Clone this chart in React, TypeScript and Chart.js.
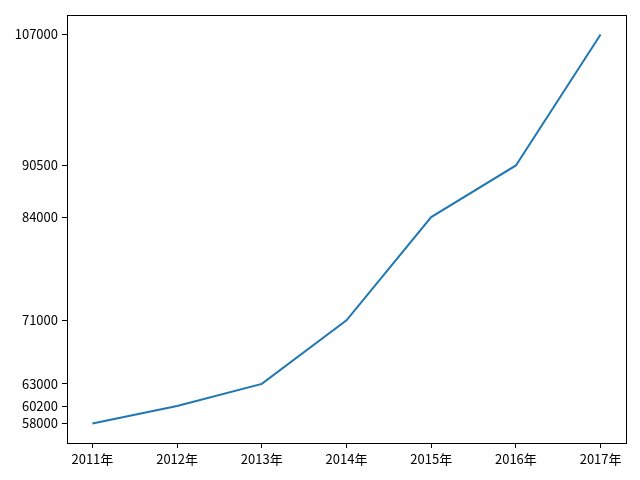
import React, { useEffect, useRef } from "react";
import { Chart, registerables } from "chart.js";

Chart.register(...registerables);

const years = [2011, 2012, 2013, 2014, 2015, 2016, 2017];
const yearLabels = ["2011年", "2012年", "2013年", "2014年", "2015年", "2016年", "2017年"];
const values = [58000, 60200, 63000, 71000, 84000, 90500, 107000];
const yTicks = [58000, 60200, 63000, 71000, 84000, 90500, 107000];

const FONT = "'Noto Sans CJK SC', 'DejaVu Sans', sans-serif";

const frame = {
  id: "frame",
  afterDraw(chart: any) {
    const { ctx, chartArea } = chart;
    ctx.save();
    ctx.strokeStyle = "#000";
    ctx.lineWidth = 1;
    ctx.strokeRect(
      Math.round(chartArea.left) + 0.5,
      Math.round(chartArea.top) + 0.5,
      Math.round(chartArea.right - chartArea.left),
      Math.round(chartArea.bottom - chartArea.top)
    );
    ctx.restore();
  },
};

export default function App() {
  const ref = useRef<HTMLCanvasElement>(null);
  useEffect(() => {
    document.body.style.margin = "0";
    const span = values[values.length - 1] - values[0];
    const chart = new Chart(ref.current!, {
      type: "line",
      data: {
        datasets: [
          {
            data: years.map((x, i) => ({ x, y: values[i] })),
            borderColor: "#1f77b4",
            borderWidth: 2,
            pointRadius: 0,
            tension: 0,
            fill: false,
          },
        ],
      },
      options: {
        animation: false,
        responsive: false,
        layout: { padding: { left: 0, top: 15, right: 14, bottom: 0 } },
        plugins: { legend: { display: false }, tooltip: { enabled: false } },
        scales: {
          x: {
            type: "linear",
            min: 2011 - 0.3,
            max: 2017 + 0.3,
            afterBuildTicks: (s: any) => {
              s.ticks = years.map((v) => ({ value: v }));
            },
            afterFit: (s: any) => {
              s.height = 37;
            },
            ticks: {
              color: "#000",
              font: { family: FONT, size: 13 },
              padding: 3,
              maxRotation: 0,
              autoSkip: false,
              callback: (v: any) => yearLabels[years.indexOf(Number(v))] ?? "",
            },
            grid: { display: true, drawOnChartArea: false, drawTicks: true, tickLength: 5, color: "#000" },
            border: { display: true, color: "#000" },
          },
          y: {
            type: "linear",
            min: values[0] - span * 0.05,
            max: values[values.length - 1] + span * 0.05,
            afterBuildTicks: (s: any) => {
              s.ticks = yTicks.map((v) => ({ value: v }));
            },
            afterFit: (s: any) => {
              s.width = 67;
            },
            ticks: {
              color: "#000",
              font: { family: FONT, size: 13 },
              padding: 4,
              autoSkip: false,
              callback: (v: any) => String(v),
            },
            grid: { display: true, drawOnChartArea: false, drawTicks: true, tickLength: 5, color: "#000" },
            border: { display: true, color: "#000" },
          },
        },
      },
      plugins: [frame],
    });
    return () => chart.destroy();
  }, []);
  return <canvas ref={ref} width={640} height={480} style={{ display: "block" }} />;
}
